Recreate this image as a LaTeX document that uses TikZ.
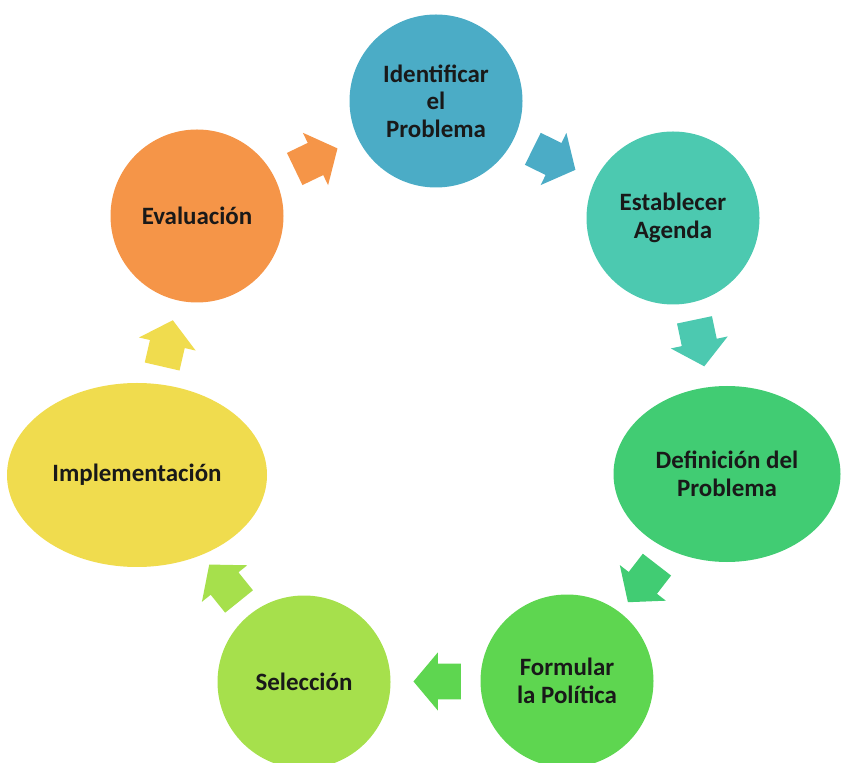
\documentclass[tikz,border=0pt]{standalone}
\usepackage{fontspec}
\setmainfont{Carlito}
\usepackage{tikz}
\usetikzlibrary{shapes.arrows,shapes.geometric,calc}

\definecolor{cIden}{RGB}{75,172,198}
\definecolor{cAgen}{RGB}{76,201,176}
\definecolor{cDefi}{RGB}{65,204,115}
\definecolor{cForm}{RGB}{94,214,80}
\definecolor{cSele}{RGB}{166,224,76}
\definecolor{cImpl}{RGB}{240,220,78}
\definecolor{cEval}{RGB}{245,149,72}

\begin{document}
\begin{tikzpicture}[
    stage/.style={circle, minimum size=3.46cm, inner sep=0pt,
        align=center, text=black!90,
        font=\fontsize{14.2}{15.6}\selectfont\bfseries},
    blockarrow/.style={single arrow, draw=none, minimum height=0.95cm,
        minimum width=1.15cm, inner xsep=0pt, inner ysep=0.35cm,
        single arrow head extend=0.225cm, single arrow tip angle=100}
    ]
    \useasboundingbox (0,0) rectangle (16.92,15.24);

    \node[stage, fill=cIden] (iden) at (8.72,13.22)
        {Identificar\\el\\Problema};
    \node[stage, fill=cAgen] (agen) at (13.46,10.88)
        {Establecer\\Agenda};
    \node[stage, ellipse, minimum width=4.54cm, minimum height=3.52cm,
        fill=cDefi] (defi) at (14.54,5.76)
        {Definición del\\Problema};
    \node[stage, fill=cForm] (form) at (11.34,1.62)
        {Formular\\la Política};
    \node[stage, fill=cSele] (sele) at (6.08,1.60)
        {Selección};
    \node[stage, ellipse, minimum width=5.2cm, minimum height=3.68cm,
        fill=cImpl] (impl) at (2.74,5.74)
        {Implementación};
    \node[stage, fill=cEval] (eval) at (3.94,10.92)
        {Evaluación};

    \node[blockarrow, fill=cEval, rotate=25.7] (a1) at ($(eval)!0.47!(iden)$) {};
    \node[blockarrow, fill=cIden, rotate=-26.3] (a2) at ($(iden)!0.47!(agen)$) {};
    \node[blockarrow, fill=cAgen, rotate=-78.1] (a3) at ($(agen)!0.46!(defi)$) {};
    \node[blockarrow, fill=cDefi, rotate=-127.7] (a4) at ($(defi)!0.5!(form)$) {};
    \node[blockarrow, fill=cForm, rotate=180] (a5) at ($(form)!0.465!(sele)$) {};
    \node[blockarrow, fill=cSele, rotate=128.9] (a6) at ($(sele)!0.45!(impl)$) {};
    \node[blockarrow, fill=cImpl, rotate=77] (a7) at ($(impl)!0.48!(eval)$) {};
\end{tikzpicture}
\end{document}
